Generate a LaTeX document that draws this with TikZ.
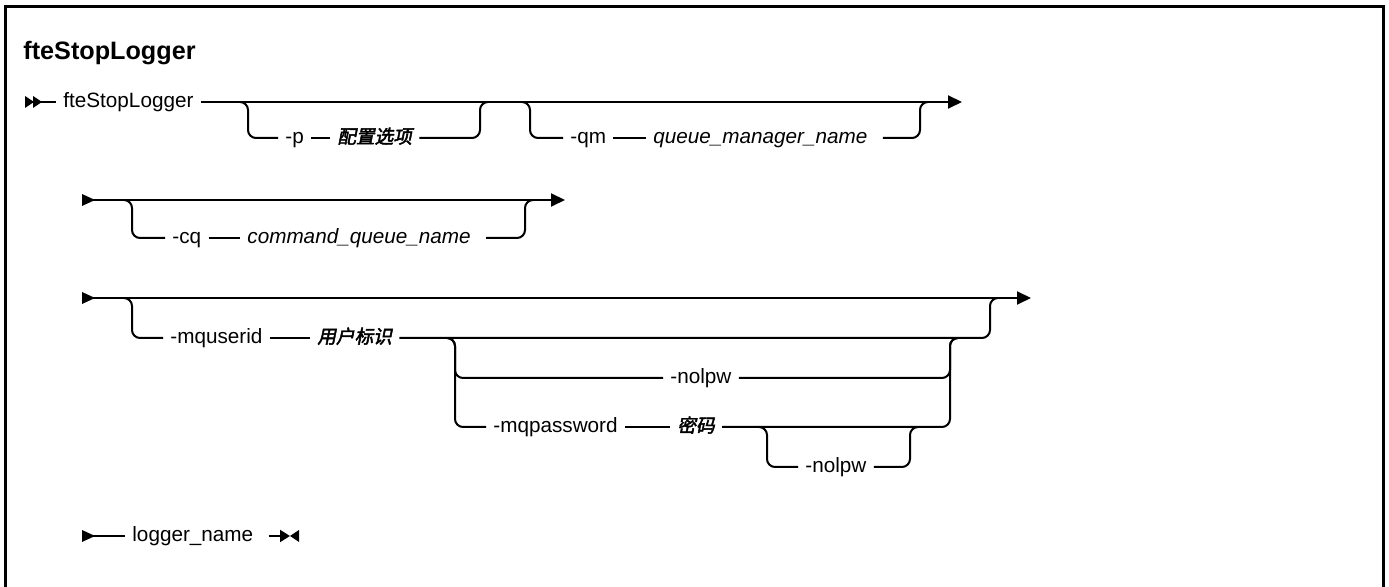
\documentclass[tikz,border=0pt]{standalone}
\usepackage{fontspec}
\setmainfont{Liberation Sans}
\newfontfamily\cjk[FakeSlant=0.2,FakeBold=2.5,Scale=0.9]{Noto Sans CJK SC}
\usetikzlibrary{arrows.meta}

\begin{document}
\begin{tikzpicture}[x=0.5pt, y=-0.5pt]
    % Define styles
    \tikzstyle{rail} = [line width=1pt, rounded corners=4pt]
    \tikzstyle{railend} = [rail, -{Triangle[length=7pt, width=6.5pt]}]
    \tikzstyle{term} = [inner xsep=3.5pt, inner ysep=1pt, anchor=mid west, font=\fontsize{10.35pt}{12pt}\selectfont]
    \tikzstyle{var} = [term, font=\fontsize{10.35pt}{12pt}\selectfont\itshape]
    \tikzstyle{cjkvar} = [term, font=\fontsize{10.35pt}{12pt}\selectfont\cjk]
    \tikzstyle{title} = [anchor=base west, inner sep=0pt, font=\fontsize{12.6pt}{15pt}\selectfont\bfseries]

    \useasboundingbox (0,0) rectangle (1389,587);
    \draw[line width=1.5pt] (5,592) -- (5,7) -- (1383,7) -- (1383,592);

    \node[title] (title) at (23,60) {fteStopLogger};

    % Row 1: command, -p, -qm
    \coordinate (s1) at (25,102);
    \fill (s1) ++(0,-6) -- ++(9,6) -- ++(-9,6) -- cycle;
    \fill (s1) ++(8,-6) -- ++(9,6) -- ++(-9,6) -- cycle;
    \node[term] (cmd) at (56,102) {fteStopLogger};
    \coordinate (e1) at (962,102);
    \draw[rail] (s1) -- (cmd.mid west);
    \draw[railend] (cmd.mid east) -- (e1);

    \coordinate (p-in) at (248,102);
    \coordinate (p-out) at (480,102);
    \node[term] (p) at (278,138) {-p};
    \node[cjkvar] (pval) at (330,138) {配置选项};
    \draw[rail] (p-in) ++(-8,0) -- (p-in) |- (p.mid west);
    \draw[rail] (p.mid east) -- (pval.mid west);
    \draw[rail] (pval.mid east) -| (p-out) -- ++(8,0);

    \coordinate (qm-in) at (530,102);
    \coordinate (qm-out) at (920,102);
    \node[term] (qm) at (563,138) {-qm};
    \node[var] (qmval) at (646,138) {queue\_manager\_name};
    \draw[rail] (qm-in) ++(-8,0) -- (qm-in) |- (qm.mid west);
    \draw[rail] (qm.mid east) -- (qmval.mid west);
    \draw[rail] (qmval.mid east) ++(8,0) -| (qm-out) -- ++(8,0);

    % Row starts
    \foreach \y/\n in {200/s2, 298/s3, 536/s4} {
        \coordinate (\n) at (82,\y);
        \fill (\n) ++(0,-6) -- ++(13,6) -- ++(-13,6) -- cycle;
    }

    % Row 2: -cq
    \coordinate (e2) at (565,200);
    \draw[railend] (s2) -- (e2);
    \coordinate (cq-in) at (132,200);
    \coordinate (cq-out) at (525,200);
    \node[term] (cq) at (165,238) {-cq};
    \node[var] (cqval) at (240,238) {command\_queue\_name};
    \draw[rail] (cq-in) ++(-8,0) -- (cq-in) |- (cq.mid west);
    \draw[rail] (cq.mid east) -- (cqval.mid west);
    \draw[rail] (cqval.mid east) ++(8,0) -| (cq-out) -- ++(8,0);

    % Row 3: -mquserid, -nolpw, -mqpassword
    \coordinate (e3) at (1031,298);
    \draw[railend] (s3) -- (e3);
    \coordinate (uid-in) at (132,298);
    \coordinate (uid-out) at (990,298);
    \node[term] (uid) at (163,338) {-mquserid};
    \node[cjkvar] (uidval) at (310,338) {用户标识};
    \draw[rail] (uid-in) ++(-8,0) -- (uid-in) |- (uid.mid west);
    \draw[rail] (uid.mid east) -- (uidval.mid west);
    \draw[rail] (uidval.mid east) -| (uid-out) -- ++(8,0);

    \coordinate (pw-in) at (455,338);
    \coordinate (pw-out) at (950,338);
    \node[term] (nolpw) at (663,378) {-nolpw};
    \draw[rail] (pw-in) ++(-8,0) -- (pw-in) |- (nolpw.mid west);
    \draw[rail] (nolpw.mid east) -| (pw-out) -- ++(8,0);

    \node[term] (mqpw) at (486,427) {-mqpassword};
    \node[cjkvar] (pwval) at (670,427) {密码};
    \draw[rail] (pw-in) ++(-8,0) -- (pw-in) |- (mqpw.mid west);
    \draw[rail] (mqpw.mid east) -- (pwval.mid west);
    \draw[rail] (pwval.mid east) -| (pw-out) -- ++(8,0);

    \coordinate (np-in) at (767,427);
    \coordinate (np-out) at (910,427);
    \node[term] (nolpw2) at (798,467) {-nolpw};
    \draw[rail] (np-in) ++(-8,0) -- (np-in) |- (nolpw2.mid west);
    \draw[rail] (nolpw2.mid east) -| (np-out) -- ++(8,0);

    % Row 4: logger_name
    \node[term] (logger) at (125,536) {logger\_name};
    \coordinate (e4) at (290,536);
    \draw[rail] (s4) -- (logger.mid west);
    \draw[rail, -{Triangle[length=5pt, width=6pt]}] (logger.mid east) ++(8,0) -- (e4);
    \fill (e4) -- ++(9,-6) -- ++(0,12) -- cycle;

\end{tikzpicture}
\end{document}
